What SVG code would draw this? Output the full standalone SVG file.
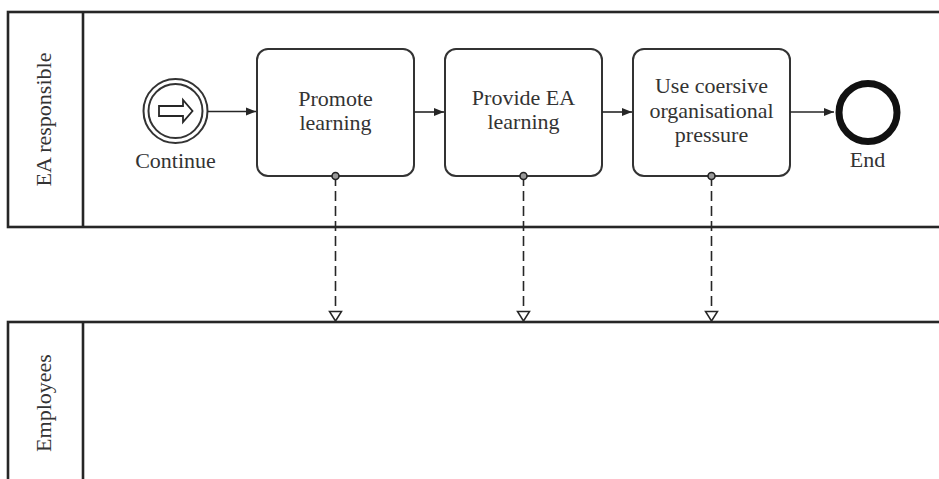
<svg xmlns="http://www.w3.org/2000/svg" width="939" height="479" viewBox="0 0 939 479">
  <style>
    .pool { fill: none; stroke: #262626; stroke-width: 2.6; }
    .lane-label { font-family: "Liberation Serif", "Times New Roman", serif; font-size: 22px; fill: #333; text-anchor: middle; }
    .task { fill: #fff; stroke: #333; stroke-width: 2; }
    .label { font-family: "Liberation Serif", "Times New Roman", serif; font-size: 22px; fill: #333; text-anchor: middle; }
    .flow { fill: none; stroke: #262626; stroke-width: 1.6; }
    .msg { fill: none; stroke: #262626; stroke-width: 1.6; stroke-dasharray: 10 5; }
    .msg-start { fill: #999; stroke: #222; stroke-width: 1.6; }
    .msg-end { fill: #fff; stroke: #262626; stroke-width: 1.5; }
  </style>
  <defs>
    <marker id="seqArrow" viewBox="0 0 10 10" refX="10" refY="5" markerWidth="10" markerHeight="10" markerUnits="userSpaceOnUse" orient="auto">
      <path d="M0,1 L10,5 L0,9 Z" fill="#262626"/>
    </marker>
  </defs>

  <rect width="939" height="479" fill="#fff"/>

  <!-- Pool: EA responsible -->
  <g id="pool-ea">
    <rect class="pool" x="8" y="12" width="1000" height="215"/>
    <line class="pool" x1="83" y1="12" x2="83" y2="227"/>
    <text class="lane-label" transform="translate(51,119.5) rotate(-90)">EA responsible</text>
  </g>

  <!-- Pool: Employees -->
  <g id="pool-employees">
    <rect class="pool" x="8" y="322" width="1000" height="200"/>
    <line class="pool" x1="83" y1="322" x2="83" y2="479"/>
    <text class="lane-label" transform="translate(51,403) rotate(-90)">Employees</text>
  </g>

  <!-- Start event (link) -->
  <g id="start-continue">
    <circle cx="175.5" cy="111" r="32" fill="#fff" stroke="#333" stroke-width="2"/>
    <circle cx="175.5" cy="111" r="27" fill="none" stroke="#333" stroke-width="2"/>
    <path d="M159,106 L183,106 L183,100 L192.5,111 L183,122 L183,116 L159,116 Z" fill="#fff" stroke="#262626" stroke-width="1.8" stroke-linejoin="miter"/>
    <text class="label" x="175.5" y="167.5">Continue</text>
  </g>

  <g id="task-promote">
    <rect class="task" x="257" y="49" width="157" height="127" rx="11"/>
    <text class="label" x="335.5" y="106">Promote</text>
    <text class="label" x="335.5" y="130">learning</text>
  </g>

  <g id="task-provide">
    <rect class="task" x="445" y="49" width="157" height="127" rx="11"/>
    <text class="label" x="523.5" y="105">Provide EA</text>
    <text class="label" x="523.5" y="129">learning</text>
  </g>

  <g id="task-pressure">
    <rect class="task" x="633" y="49" width="157" height="127" rx="11"/>
    <text class="label" x="711.5" y="93">Use coersive</text>
    <text class="label" x="711.5" y="117.5">organisational</text>
    <text class="label" x="711.5" y="142">pressure</text>
  </g>

  <!-- End event -->
  <g id="end">
    <circle cx="868" cy="112.5" r="29" fill="#fff" stroke="#111" stroke-width="7"/>
    <text class="label" x="867.5" y="167">End</text>
  </g>

  <!-- Connectors -->
  <g id="connectors">
    <line class="flow" x1="207.5" y1="111.5" x2="256" y2="111.5" marker-end="url(#seqArrow)"/>
    <line class="flow" x1="414" y1="112" x2="444" y2="112" marker-end="url(#seqArrow)"/>
    <line class="flow" x1="602" y1="112" x2="632" y2="112" marker-end="url(#seqArrow)"/>
    <line class="flow" x1="790" y1="112" x2="834" y2="112" marker-end="url(#seqArrow)"/>

    <!-- Message flows -->
    <line class="msg" x1="335.5" y1="176" x2="335.5" y2="311"/>
    <circle class="msg-start" cx="335.5" cy="176" r="3.5"/>
    <path class="msg-end" d="M329.5,311.5 L341.5,311.5 L335.5,321 Z"/>

    <line class="msg" x1="523.5" y1="176" x2="523.5" y2="311"/>
    <circle class="msg-start" cx="523.5" cy="176" r="3.5"/>
    <path class="msg-end" d="M517.5,311.5 L529.5,311.5 L523.5,321 Z"/>

    <line class="msg" x1="711.5" y1="176" x2="711.5" y2="311"/>
    <circle class="msg-start" cx="711.5" cy="176" r="3.5"/>
    <path class="msg-end" d="M705.5,311.5 L717.5,311.5 L711.5,321 Z"/>
  </g>
</svg>
